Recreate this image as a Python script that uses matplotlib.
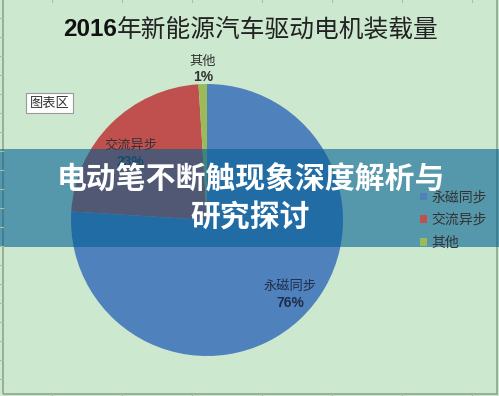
import matplotlib.pyplot as plt
from matplotlib.patches import Rectangle

plt.rcParams['font.family'] = ['Noto Sans CJK SC', 'DejaVu Sans']

# chart data
labels = ['永磁同步', '交流异步', '其他']
shares = [76, 23, 1]
colors = ['#4f81bd', '#c0504d', '#9bbb59']
title_year = '2016'
title_rest = '年新能源汽车驱动电机装载量'
banner_lines = ['电动笔不断触现象深度解析与', '研究探讨']

W, H = 499, 396
bg = '#cce8cf'

fig = plt.figure(figsize=(W / 100, H / 100), dpi=100, facecolor=bg)

# spreadsheet grid remnants around the chart area
for gx in [52, 122, 192, 262, 332, 402, 472]:
    fig.add_artist(plt.Line2D([gx / W, gx / W], [0, 2 / H], color='#a9bfa9', lw=0.8))
    fig.add_artist(plt.Line2D([gx / W, gx / W], [1 - 2 / H, 1], color='#a9bfa9', lw=0.8))
for gy in range(18, 390, 19):
    fig.add_artist(plt.Line2D([0, 3 / W], [1 - gy / H, 1 - gy / H], color='#a9bfa9', lw=0.8))
# chart area border
fig.add_artist(Rectangle((3 / W, 2 / H), 494 / W, 1.2, transform=fig.transFigure,
                         fill=False, edgecolor='#8ea58e', lw=1.2))

# pie: center (207, 220) px, radius 136 px
cx, cy, r = 207, 220, 136
ax = fig.add_axes([(cx - r) / W, (H - cy - r) / H, 2 * r / W, 2 * r / H])
ax.set_facecolor('none')
wedges, _ = ax.pie(shares, colors=colors, startangle=90, counterclock=False,
                   radius=1, wedgeprops=dict(linewidth=0))
ax.set_xlim(-1, 1)
ax.set_ylim(-1, 1)
ax.axis('off')

# data labels (name + percent)
label_pos = [(0.61, -0.49), (-0.56, 0.55), (-0.03, 1.17)]
label_col = ['#1f2d4a', '#333333', '#333333']
for name, val, (lx, ly), c in zip(labels, shares, label_pos, label_col):
    ax.text(lx, ly, name, ha='center', va='center', fontsize=9.5, color=c)
    ax.text(lx, ly - 0.12, f'{val}%', ha='center', va='center', fontsize=10,
            color=c, fontweight='bold', family=['Liberation Sans', 'DejaVu Sans'])

# title, bold year + regular rest
t1 = fig.text(63 / W, 1 - 30 / H, title_year, ha='left', va='center', fontsize=17.5,
              fontweight='bold', family=['Liberation Sans', 'DejaVu Sans'], color='#111111')
fig.canvas.draw()
bb = t1.get_window_extent()
fig.text(bb.x1 / W, 1 - 30 / H, title_rest, ha='left', va='center', fontsize=17.8,
         color='#222222')

# legend
fig.legend(wedges, labels, loc='center left', bbox_to_anchor=(420 / W, 1 - 220 / H),
           frameon=False, fontsize=10, handlelength=0.5, handleheight=0.5,
           handletextpad=0.3, labelspacing=0.62, labelcolor='#333333',
           borderpad=0, borderaxespad=0)

# chart area tooltip box
fig.text(49.5 / W, 1 - 103 / H, '图表区', ha='center', va='center', fontsize=9.5,
         color='#333333',
         bbox=dict(boxstyle='square,pad=0.25', facecolor='white', edgecolor='#999999', lw=0.8))

# overlay banner
fig.add_artist(Rectangle((0, 1 - 247 / H), 1, 98 / H, transform=fig.transFigure,
                         facecolor='#005e92', alpha=0.58, edgecolor='none'))
fig.text(251 / W, 1 - 180 / H, banner_lines[0], ha='center', va='center', fontsize=21.5,
         fontweight='black', color='white')
fig.text(250 / W, 1 - 218 / H, banner_lines[1], ha='center', va='center', fontsize=21.5,
         fontweight='black', color='white')

fig.savefig('out.png', dpi=100, facecolor=bg)
